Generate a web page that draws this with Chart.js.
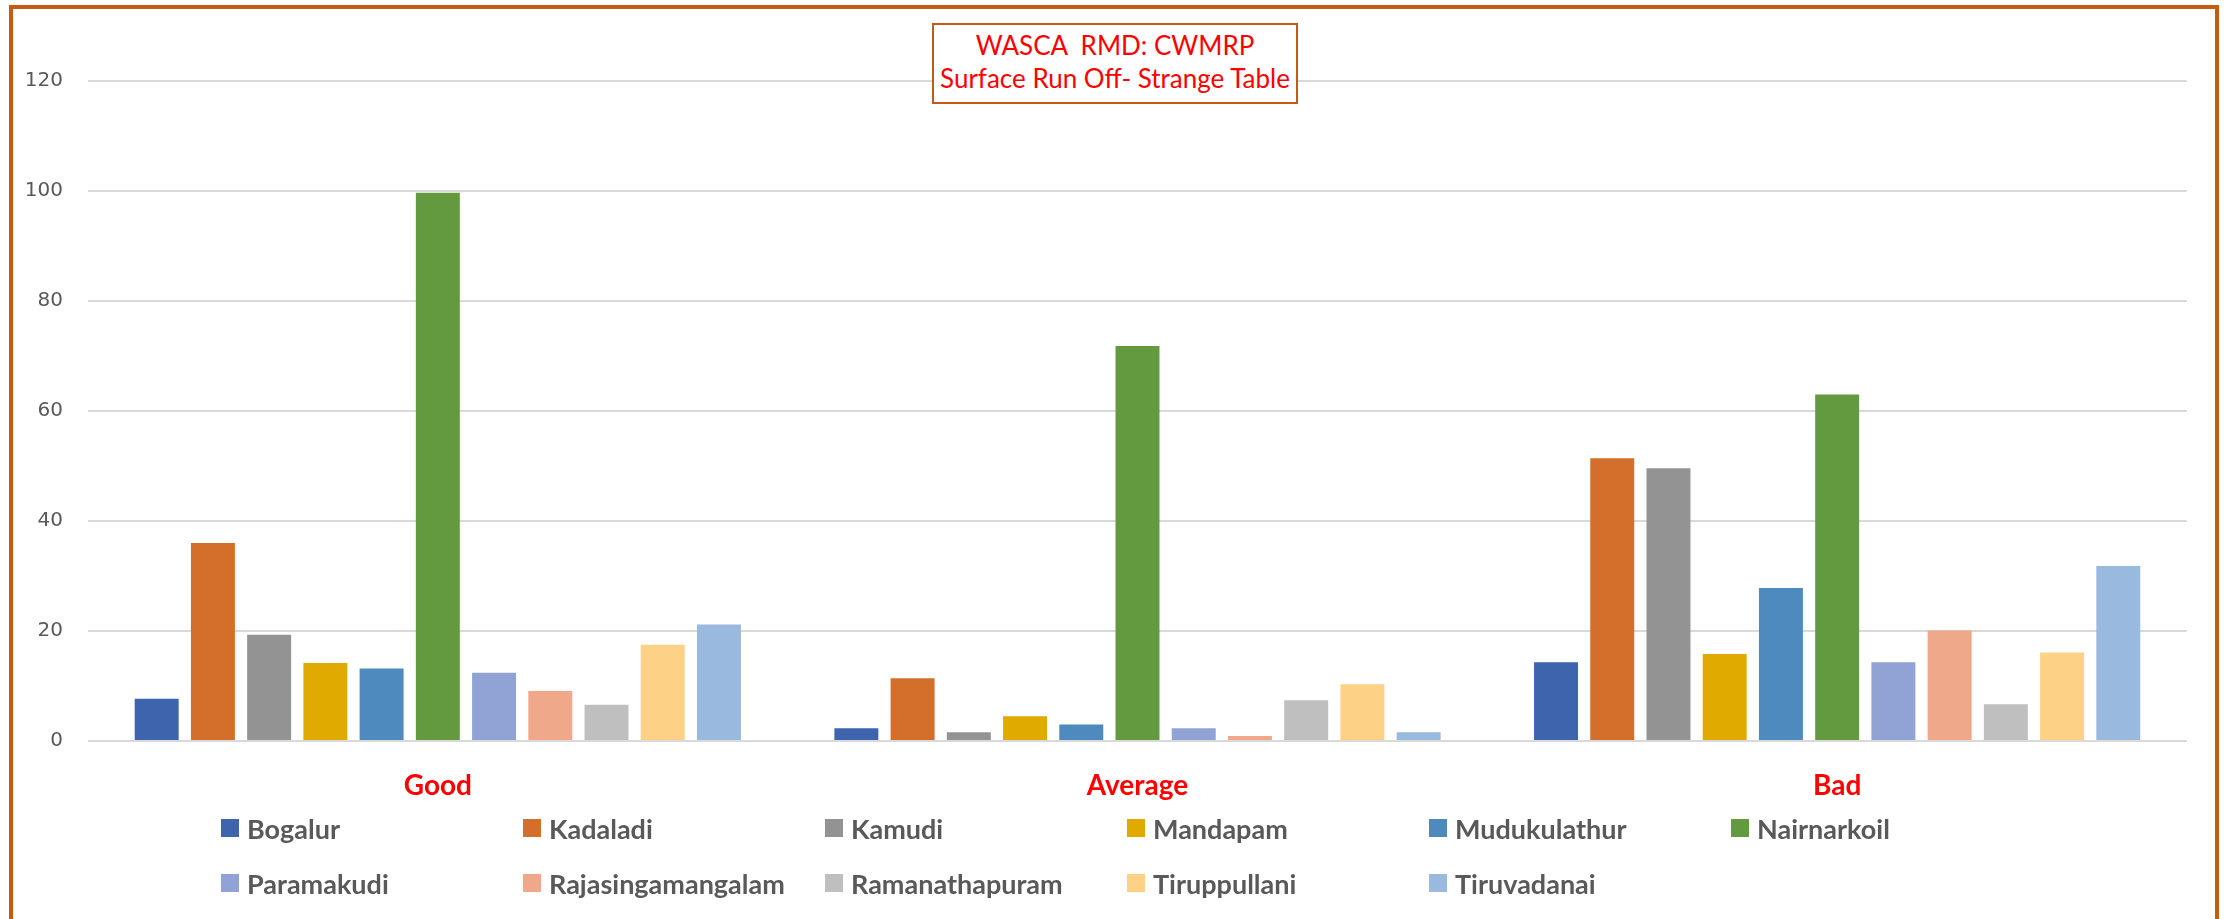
<!DOCTYPE html>
<html>
<head>
<meta charset="utf-8">
<script src="https://cdn.jsdelivr.net/npm/chart.js@4"></script>
<style>
    body { margin: 0; background: #ffffff; }
    #wrap { position: relative; width: 2231px; height: 919px; overflow: hidden; }
    #frame {
        position: absolute; left: 9px; top: 5px; width: 2202px; height: 940px;
        border: 4px solid #C55A11;
    }
    #runoff_canvas { position: absolute; left: 0; top: 0; }
    #title_box {
        position: absolute; left: 932px; top: 23px; width: 362px; height: 73px;
        border: 2px solid #C55A11; background: #ffffff;
        font-family: "Lato", "Liberation Sans", sans-serif; font-size: 26px;
        color: #FF0000; text-align: center; line-height: 33px; padding-top: 4px;
        box-sizing: content-box; white-space: nowrap;
    }
    #legend { position: absolute; left: 0; top: 0; }
    .leg-item {
        position: absolute; height: 30px; display: flex; align-items: center;
        font-family: "Lato", "Liberation Sans", sans-serif; font-weight: bold;
        font-size: 27px; color: #595959; white-space: nowrap;
    }
    .leg-box { width: 18px; height: 18px; margin-right: 8px; }
</style>
</head>
<body>
<div id="wrap">
    <div id="frame"></div>
    <canvas id="runoff_canvas" width="2231" height="919"></canvas>
    <div id="title_box">WASCA&nbsp; RMD: CWMRP<br>Surface Run Off- Strange Table</div>
    <div id="legend"></div>
</div>
<script>
// Categories and block names
var categories = ["Good", "Average", "Bad"];
var blocks = ["Bogalur", "Kadaladi", "Kamudi", "Mandapam", "Mudukulathur", "Nairnarkoil",
    "Paramakudi", "Rajasingamangalam", "Ramanathapuram", "Tiruppullani", "Tiruvadanai"];

// Values per block: [Good, Average, Bad]
var bogalur = [7.7, 2.3, 14.3];
var kadaladi = [36.0, 11.4, 51.4];
var kamudi = [19.3, 1.6, 49.6];
var mandapam = [14.2, 4.5, 15.8];
var mudukulathur = [13.2, 3.0, 27.8];
var nairnarkoil = [99.7, 71.8, 63.0];
var paramakudi = [12.4, 2.3, 14.3];
var rajasingamangalam = [9.1, 0.9, 20.1];
var ramanathapuram = [6.6, 7.4, 6.7];
var tiruppullani = [17.5, 10.3, 16.1];
var tiruvadanai = [21.2, 1.6, 31.8];

var yTicks = [0, 20, 40, 60, 80, 100, 120];

var seriesValues = [bogalur, kadaladi, kamudi, mandapam, mudukulathur, nairnarkoil,
    paramakudi, rajasingamangalam, ramanathapuram, tiruppullani, tiruvadanai];
var colors = ["#3E64AD", "#D46E2B", "#939393", "#E1AA00", "#4F8ABE", "#639A3F",
    "#91A3D4", "#F0A88A", "#BFBFBF", "#FDD186", "#99B9DF"];

var datasets = [];
for (var i = 0; i < blocks.length; i++) {
    datasets.push({
        label: blocks[i],
        data: seriesValues[i],
        backgroundColor: colors[i],
        categoryPercentage: 0.884,
        barPercentage: 0.782,
    });
}

var chart = new Chart(document.getElementById("runoff_canvas"), {
    type: "bar",
    data: { labels: categories, datasets: datasets },
    options: {
        responsive: false,
        animation: false,
        layout: { padding: { left: 0, top: 81, right: 44, bottom: 98 } },
        plugins: { legend: { display: false }, tooltip: { enabled: false } },
        scales: {
            x: {
                grid: { display: false },
                border: { display: false },
                ticks: {
                    color: "#FF0000",
                    padding: 20,
                    font: { family: "Lato", size: 28, weight: "bold" },
                },
                afterFit: function (scale) { scale.height = 80; },
            },
            y: {
                min: 0,
                max: 120,
                afterBuildTicks: function (scale) {
                    scale.ticks = yTicks.map(function (v) { return { value: v }; });
                },
                grid: { color: "#D9D9D9", lineWidth: 2, drawTicks: false },
                border: { display: false },
                ticks: {
                    color: "#595959",
                    padding: 25,
                    font: { family: "DejaVu Sans", size: 20 },
                },
                afterFit: function (scale) { scale.width = 88; },
            },
        },
    },
});

// Legend laid out in fixed columns, like the original
var legend = document.getElementById("legend");
for (var j = 0; j < blocks.length; j++) {
    var item = document.createElement("div");
    item.className = "leg-item";
    item.style.left = (221 + (j % 6) * 302) + "px";
    item.style.top = (j < 6 ? 813 : 868) + "px";
    item.innerHTML = '<span class="leg-box" style="background:' + colors[j] + '"></span>' + blocks[j];
    legend.appendChild(item);
}
</script>
</body>
</html>
